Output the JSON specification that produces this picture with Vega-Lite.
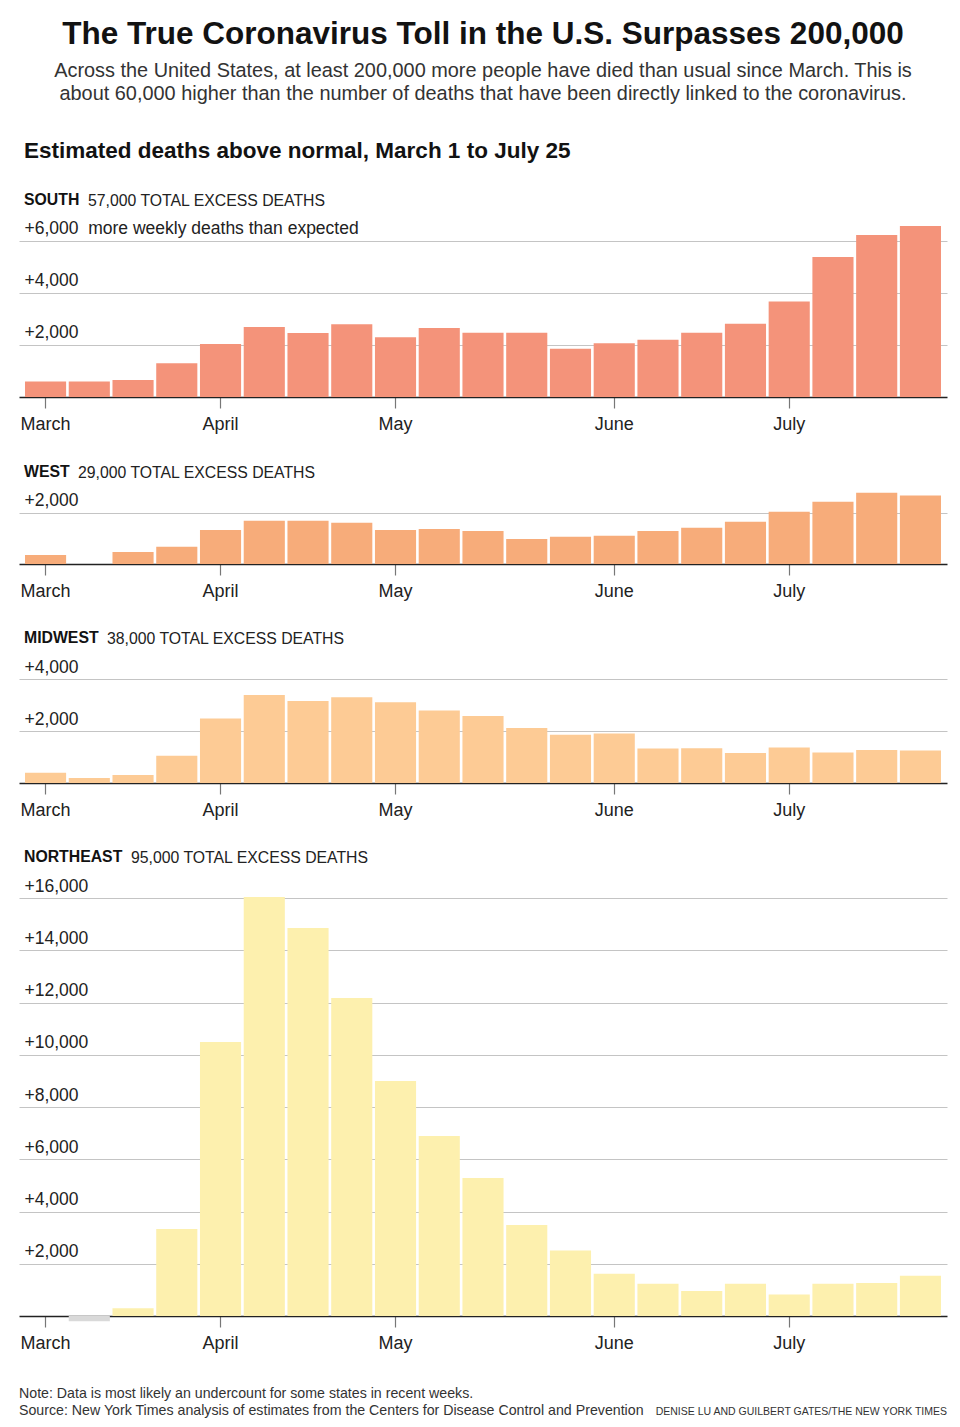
{
  "$schema": "https://vega.github.io/schema/vega-lite/v6.json",
  "background": "white",
  "padding": {"left": 19, "right": 13, "top": 19, "bottom": 4},
  "title": {
    "text": "The True Coronavirus Toll in the U.S. Surpasses 200,000",
    "subtitle": ["Across the United States, at least 200,000 more people have died than usual since March. This is", "about 60,000 higher than the number of deaths that have been directly linked to the coronavirus."],
    "anchor": "middle",
    "font": "Liberation Sans",
    "fontSize": 31.5,
    "fontWeight": "bold",
    "color": "#121212",
    "subtitleFont": "Liberation Sans",
    "subtitleFontSize": 19.9,
    "subtitleColor": "#333333",
    "subtitlePadding": 10,
    "subtitleLineHeight": 23,
    "offset": 36
  },
  "data": {"values": [
    {"region": "South", "week": "Mar 7", "deaths": 600},
    {"region": "South", "week": "Mar 14", "deaths": 600},
    {"region": "South", "week": "Mar 21", "deaths": 650},
    {"region": "South", "week": "Mar 28", "deaths": 1300},
    {"region": "South", "week": "Apr 4", "deaths": 2040},
    {"region": "South", "week": "Apr 11", "deaths": 2690},
    {"region": "South", "week": "Apr 18", "deaths": 2460},
    {"region": "South", "week": "Apr 25", "deaths": 2800},
    {"region": "South", "week": "May 2", "deaths": 2300},
    {"region": "South", "week": "May 9", "deaths": 2650},
    {"region": "South", "week": "May 16", "deaths": 2470},
    {"region": "South", "week": "May 23", "deaths": 2470},
    {"region": "South", "week": "May 30", "deaths": 1860},
    {"region": "South", "week": "Jun 6", "deaths": 2065},
    {"region": "South", "week": "Jun 13", "deaths": 2200},
    {"region": "South", "week": "Jun 20", "deaths": 2470},
    {"region": "South", "week": "Jun 27", "deaths": 2820},
    {"region": "South", "week": "Jul 4", "deaths": 3670},
    {"region": "South", "week": "Jul 11", "deaths": 5380},
    {"region": "South", "week": "Jul 18", "deaths": 6230},
    {"region": "South", "week": "Jul 25", "deaths": 6580},
    {"region": "West", "week": "Mar 7", "deaths": 350},
    {"region": "West", "week": "Mar 14", "deaths": 0},
    {"region": "West", "week": "Mar 21", "deaths": 470},
    {"region": "West", "week": "Mar 28", "deaths": 670},
    {"region": "West", "week": "Apr 4", "deaths": 1330},
    {"region": "West", "week": "Apr 11", "deaths": 1690},
    {"region": "West", "week": "Apr 18", "deaths": 1690},
    {"region": "West", "week": "Apr 25", "deaths": 1610},
    {"region": "West", "week": "May 2", "deaths": 1330},
    {"region": "West", "week": "May 9", "deaths": 1370},
    {"region": "West", "week": "May 16", "deaths": 1290},
    {"region": "West", "week": "May 23", "deaths": 980},
    {"region": "West", "week": "May 30", "deaths": 1060},
    {"region": "West", "week": "Jun 6", "deaths": 1100},
    {"region": "West", "week": "Jun 13", "deaths": 1290},
    {"region": "West", "week": "Jun 20", "deaths": 1410},
    {"region": "West", "week": "Jun 27", "deaths": 1650},
    {"region": "West", "week": "Jul 4", "deaths": 2040},
    {"region": "West", "week": "Jul 11", "deaths": 2430},
    {"region": "West", "week": "Jul 18", "deaths": 2780},
    {"region": "West", "week": "Jul 25", "deaths": 2670},
    {"region": "Midwest", "week": "Mar 7", "deaths": 390},
    {"region": "Midwest", "week": "Mar 14", "deaths": 195},
    {"region": "Midwest", "week": "Mar 21", "deaths": 310},
    {"region": "Midwest", "week": "Mar 28", "deaths": 1050},
    {"region": "Midwest", "week": "Apr 4", "deaths": 2485},
    {"region": "Midwest", "week": "Apr 11", "deaths": 3380},
    {"region": "Midwest", "week": "Apr 18", "deaths": 3150},
    {"region": "Midwest", "week": "Apr 25", "deaths": 3300},
    {"region": "Midwest", "week": "May 2", "deaths": 3105},
    {"region": "Midwest", "week": "May 9", "deaths": 2785},
    {"region": "Midwest", "week": "May 16", "deaths": 2580},
    {"region": "Midwest", "week": "May 23", "deaths": 2115},
    {"region": "Midwest", "week": "May 30", "deaths": 1857},
    {"region": "Midwest", "week": "Jun 6", "deaths": 1907},
    {"region": "Midwest", "week": "Jun 13", "deaths": 1327},
    {"region": "Midwest", "week": "Jun 20", "deaths": 1340},
    {"region": "Midwest", "week": "Jun 27", "deaths": 1150},
    {"region": "Midwest", "week": "Jul 4", "deaths": 1366},
    {"region": "Midwest", "week": "Jul 11", "deaths": 1173},
    {"region": "Midwest", "week": "Jul 18", "deaths": 1265},
    {"region": "Midwest", "week": "Jul 25", "deaths": 1250},
    {"region": "Northeast", "week": "Mar 7", "deaths": 0},
    {"region": "Northeast", "week": "Mar 14", "deaths": -200},
    {"region": "Northeast", "week": "Mar 21", "deaths": 300},
    {"region": "Northeast", "week": "Mar 28", "deaths": 3330},
    {"region": "Northeast", "week": "Apr 4", "deaths": 10490},
    {"region": "Northeast", "week": "Apr 11", "deaths": 16040},
    {"region": "Northeast", "week": "Apr 18", "deaths": 14850},
    {"region": "Northeast", "week": "Apr 25", "deaths": 12170},
    {"region": "Northeast", "week": "May 2", "deaths": 9000},
    {"region": "Northeast", "week": "May 9", "deaths": 6890},
    {"region": "Northeast", "week": "May 16", "deaths": 5280},
    {"region": "Northeast", "week": "May 23", "deaths": 3480},
    {"region": "Northeast", "week": "May 30", "deaths": 2510},
    {"region": "Northeast", "week": "Jun 6", "deaths": 1617},
    {"region": "Northeast", "week": "Jun 13", "deaths": 1235},
    {"region": "Northeast", "week": "Jun 20", "deaths": 955},
    {"region": "Northeast", "week": "Jun 27", "deaths": 1235},
    {"region": "Northeast", "week": "Jul 4", "deaths": 826},
    {"region": "Northeast", "week": "Jul 11", "deaths": 1235},
    {"region": "Northeast", "week": "Jul 18", "deaths": 1262},
    {"region": "Northeast", "week": "Jul 25", "deaths": 1541}
  ]},
  "vconcat": [{
    "title": {"text": "DENISE LU AND GUILBERT GATES/THE NEW YORK TIMES", "orient": "bottom", "anchor": "end", "font": "Liberation Sans", "fontSize": 10.5, "fontWeight": "normal", "color": "#333333", "offset": 0, "dy": -11},
    "vconcat": [{
      "title": {"text": ["Note: Data is most likely an undercount for some states in recent weeks.", "Source: New York Times analysis of estimates from the Centers for Disease Control and Prevention"], "orient": "bottom", "anchor": "start", "font": "Liberation Sans", "fontSize": 14.2, "fontWeight": "normal", "color": "#333333", "lineHeight": 17, "offset": 35},
      "vconcat": [{
        "title": {"text": "Estimated deaths above normal, March 1 to July 25", "anchor": "start", "dx": 5, "font": "Liberation Sans", "fontSize": 22.5, "fontWeight": "bold", "color": "#121212", "offset": 30},
        "spacing": 30,
        "vconcat": [
          {
            "title": {"text": "SOUTH", "anchor": "start", "dx": 5, "dy": 15.8, "font": "Liberation Sans", "fontSize": 15.8, "fontWeight": "bold", "color": "#121212", "offset": 0},
            "vconcat": [{
              "title": {"text": "57,000 TOTAL EXCESS DEATHS", "anchor": "start", "dx": 69, "font": "Liberation Sans", "fontSize": 15.8, "fontWeight": "normal", "color": "#222222", "offset": 10},
              "width": 928,
              "height": 172,
              "transform": [{"filter": "datum.region == 'South'"}],
              "mark": {"type": "bar", "color": "#f4937a"},
              "encoding": {
                "x": {"field": "week", "type": "ordinal", "sort": null, "axis": {"values": ["Mar 7", "Apr 4", "May 2", "Jun 6", "Jul 4"]}},
                "y": {"field": "deaths", "type": "quantitative", "scale": {"domain": [0, 6615], "nice": false}, "axis": {"values": [2000, 4000, 6000], "labelExpr": "datum.value == 6000 ? '+6,000\u00a0 more weekly deaths than expected' : '+' + datum.label"}}
              }
            }]
          },
          {
            "title": {"text": "WEST", "anchor": "start", "dx": 5, "dy": 15.8, "font": "Liberation Sans", "fontSize": 15.8, "fontWeight": "bold", "color": "#121212", "offset": 0},
            "vconcat": [{
              "title": {"text": "29,000 TOTAL EXCESS DEATHS", "anchor": "start", "dx": 59, "font": "Liberation Sans", "fontSize": 15.8, "fontWeight": "normal", "color": "#222222", "offset": 10},
              "width": 928,
              "height": 71,
              "transform": [{"filter": "datum.region == 'West'"}],
              "mark": {"type": "bar", "color": "#f7ac7a"},
              "encoding": {
                "x": {"field": "week", "type": "ordinal", "sort": null, "axis": {"values": ["Mar 7", "Apr 4", "May 2", "Jun 6", "Jul 4"]}},
                "y": {"field": "deaths", "type": "quantitative", "scale": {"domain": [0, 2770], "nice": false}, "axis": {"values": [2000], "labelExpr": "'+' + datum.label"}}
              }
            }]
          },
          {
            "title": {"text": "MIDWEST", "anchor": "start", "dx": 5, "dy": 15.8, "font": "Liberation Sans", "fontSize": 15.8, "fontWeight": "bold", "color": "#121212", "offset": 0},
            "vconcat": [{
              "title": {"text": "38,000 TOTAL EXCESS DEATHS", "anchor": "start", "dx": 88, "font": "Liberation Sans", "fontSize": 15.8, "fontWeight": "normal", "color": "#222222", "offset": 10},
              "width": 928,
              "height": 104,
              "transform": [{"filter": "datum.region == 'Midwest'"}],
              "mark": {"type": "bar", "color": "#fdcb95"},
              "encoding": {
                "x": {"field": "week", "type": "ordinal", "sort": null, "axis": {"values": ["Mar 7", "Apr 4", "May 2", "Jun 6", "Jul 4"]}},
                "y": {"field": "deaths", "type": "quantitative", "scale": {"domain": [0, 4000], "nice": false}, "axis": {"values": [2000, 4000], "labelExpr": "'+' + datum.label"}}
              }
            }]
          },
          {
            "title": {"text": "NORTHEAST", "anchor": "start", "dx": 5, "dy": 15.8, "font": "Liberation Sans", "fontSize": 15.8, "fontWeight": "bold", "color": "#121212", "offset": 0},
            "vconcat": [{
              "title": {"text": "95,000 TOTAL EXCESS DEATHS", "anchor": "start", "dx": 112, "font": "Liberation Sans", "fontSize": 15.8, "fontWeight": "normal", "color": "#222222", "offset": 10},
              "width": 928,
              "height": 418,
              "transform": [{"filter": "datum.region == 'Northeast'"}],
              "mark": {"type": "bar"},
              "encoding": {
                "x": {"field": "week", "type": "ordinal", "sort": null, "axis": {"values": ["Mar 7", "Apr 4", "May 2", "Jun 6", "Jul 4"]}},
                "y": {"field": "deaths", "type": "quantitative", "scale": {"domain": [0, 16000], "nice": false}, "axis": {"values": [2000, 4000, 6000, 8000, 10000, 12000, 14000, 16000], "labelExpr": "'+' + datum.label"}},
                "color": {"condition": {"test": "datum.deaths < 0", "value": "#d9d9d9"}, "value": "#fdf0ae"}
              }
            }]
          }
        ]
      }]
    }]
  }],
  "config": {
    "font": "Liberation Sans",
    "view": {"stroke": null},
    "scale": {"bandPaddingInner": 0.06, "bandPaddingOuter": 0.137},
    "axisX": {"title": null, "grid": false, "domainColor": "#222222", "domainWidth": 1.3, "tickColor": "#777777", "tickSize": 11, "tickWidth": 1.2, "labelPadding": 7, "labelFont": "Liberation Sans", "labelFontSize": 18, "labelColor": "#222222", "labelAngle": 0, "zindex": 1, "labelExpr": "datum.value == 'Mar 7' ? 'March' : datum.value == 'Apr 4' ? 'April' : datum.value == 'May 2' ? 'May' : datum.value == 'Jun 6' ? 'June' : datum.value == 'Jul 4' ? 'July' : ''"},
    "axisY": {"title": null, "domain": false, "ticks": false, "tickSize": 0, "grid": true, "gridColor": "#c4c4c4", "gridWidth": 1, "labelAlign": "left", "labelBaseline": "alphabetic", "labelPadding": -5, "labelOffset": -7, "labelFont": "Liberation Sans", "labelFontSize": 17.5, "labelColor": "#222222", "labelLimit": 0, "zindex": 1, "labelOverlap": false, "labelBound": false, "labelFlush": false}
  }
}
